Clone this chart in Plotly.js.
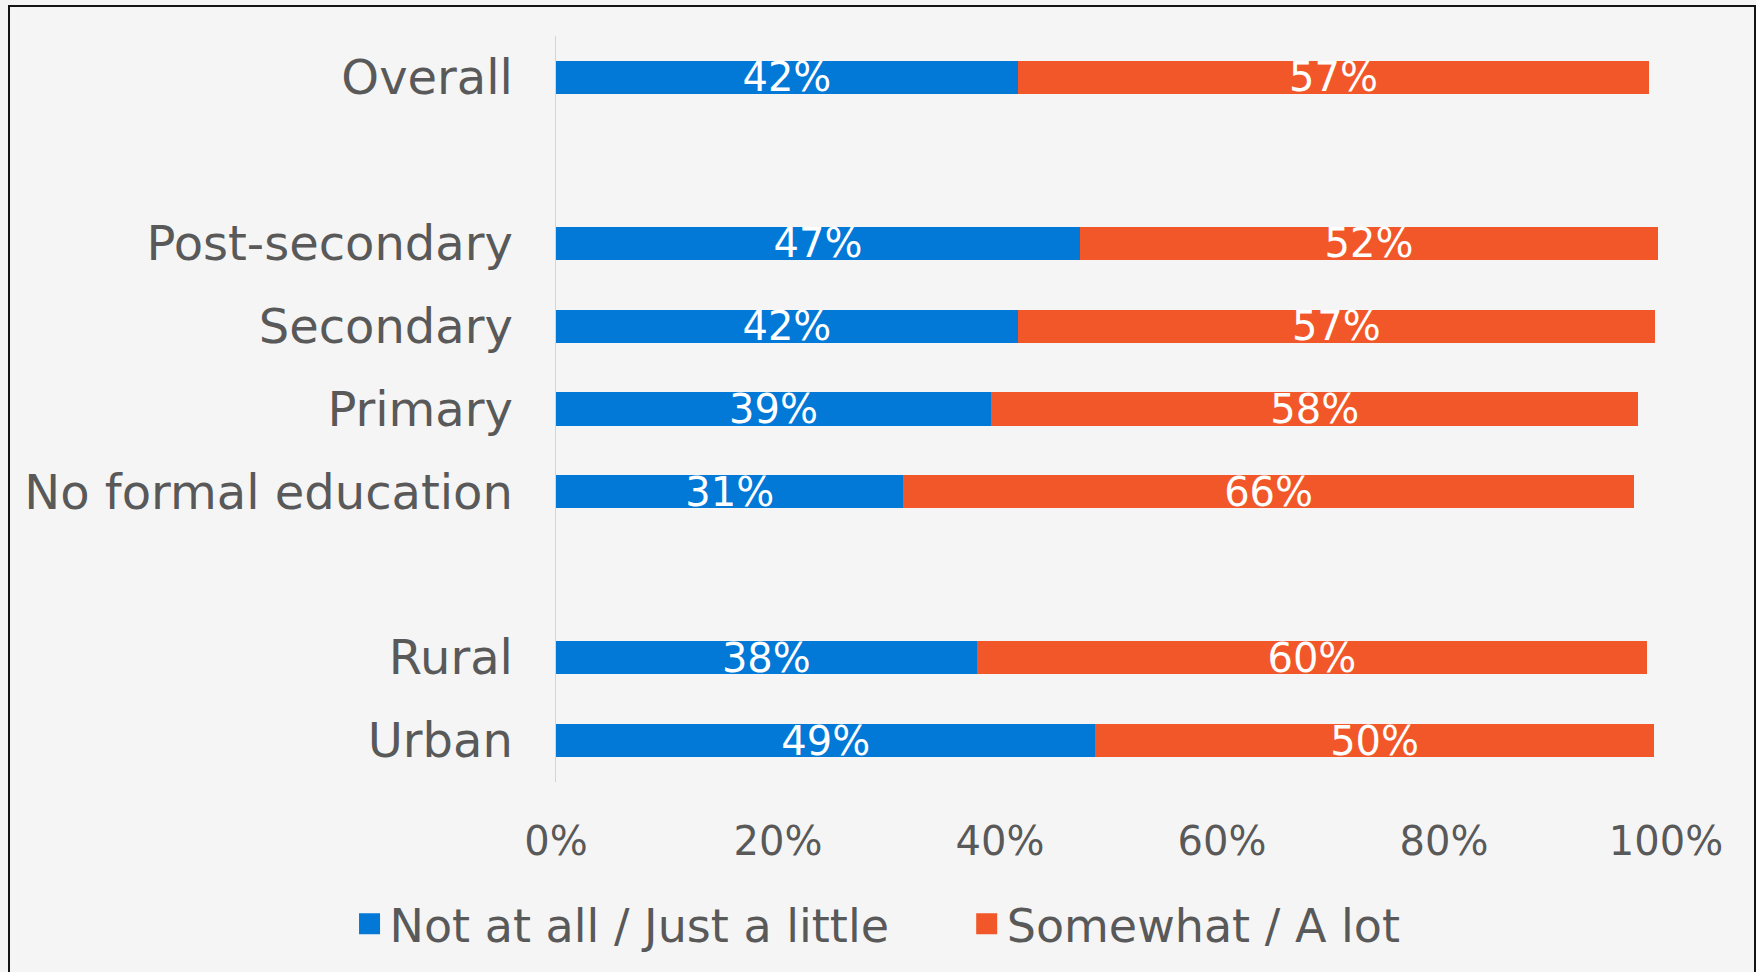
<!DOCTYPE html>
<html>
<head>
<meta charset="utf-8">
<script src="https://cdn.plot.ly/plotly-3.0.1.min.js"></script>
<style>
  html, body { margin: 0; padding: 0; background: #f5f5f5; width: 1756px; height: 972px; overflow: hidden; }
  #frame { position: absolute; left: 8px; top: 5px; width: 1744px; height: 990px; border: 2px solid #151515; box-sizing: content-box; }
  #chart { position: absolute; left: 0; top: 0; width: 1756px; height: 972px; }
</style>
</head>
<body>
<div id="frame"></div>
<div id="chart"></div>
<script>
// Categories top-to-bottom; blank entries are spacer rows
const categories = ["Overall", " ", "Post-secondary", "Secondary", "Primary", "No formal education", "  ", "Rural", "Urban"];
const notAtAll   = [41.6, null, 47.2, 41.6, 39.2, 31.3, null, 37.9, 48.6];
const somewhat   = [56.9, null, 52.1, 57.4, 58.3, 65.8, null, 60.4, 50.3];
const seriesNames = ["Not at all / Just a little", "Somewhat / A lot"];
const seriesColors = ["#0278d7", "#f2572a"];
const xTicks = [0, 20, 40, 60, 80, 100];

const FONT = "DejaVu Sans";
const GREY = "#595959";

function barTrace(vals, name, color) {
  return {
    type: "bar",
    orientation: "h",
    y: categories,
    x: vals,
    name: name,
    showlegend: false,
    marker: { color: color },
    text: vals.map(v => v === null ? "" : Math.round(v) + "%"),
    textposition: "inside",
    insidetextanchor: "middle",
    textangle: 0,
    constraintext: "none",
    textfont: { family: FONT, size: 40, color: "#ffffff" },
    hoverinfo: "skip"
  };
}

// legend-only entries (larger square swatches)
function legendTrace(name, color, legendId) {
  return {
    type: "scatter",
    mode: "markers",
    x: [null],
    y: [null],
    name: name,
    legend: legendId,
    marker: { symbol: "square", size: 16, color: color, line: { color: color, width: 5 } },
    hoverinfo: "skip"
  };
}

const data = [
  barTrace(notAtAll, seriesNames[0], seriesColors[0]),
  barTrace(somewhat, seriesNames[1], seriesColors[1]),
  legendTrace(seriesNames[0], seriesColors[0], "legend"),
  legendTrace(seriesNames[1], seriesColors[1], "legend2")
];

function legendBox(x) {
  return {
    orientation: "h",
    x: x, xanchor: "left",
    y: -0.19, yanchor: "middle",
    font: { family: FONT, size: 46, color: GREY },
    itemsizing: "trace",
    itemwidth: 30,
    bgcolor: "rgba(0,0,0,0)"
  };
}

const layout = {
  width: 1756,
  height: 972,
  margin: { l: 556, r: 90, t: 36, b: 190, pad: 0 },
  paper_bgcolor: "rgba(0,0,0,0)",
  plot_bgcolor: "rgba(0,0,0,0)",
  barmode: "stack",
  bargap: 0.6,
  showlegend: true,
  legend: legendBox(-0.186),
  legend2: legendBox(0.370),
  xaxis: {
    range: [0, 100],
    tickvals: xTicks,
    ticktext: xTicks.map(v => v + "%"),
    showgrid: false,
    zeroline: false,
    showline: false,
    ticks: "",
    ticklabelstandoff: 32,
    tickfont: { family: FONT, size: 40, color: GREY },
    fixedrange: true
  },
  yaxis: {
    type: "category",
    categoryorder: "array",
    categoryarray: categories,
    autorange: "reversed",
    showgrid: false,
    zeroline: false,
    showline: true,
    linecolor: "#d4d4d4",
    linewidth: 1.5,
    ticks: "",
    ticklabelstandoff: 32,
    tickfont: { family: FONT, size: 48, color: GREY },
    fixedrange: true
  }
};

Plotly.newPlot("chart", data, layout, { displayModeBar: false, staticPlot: true });
</script>
</body>
</html>
